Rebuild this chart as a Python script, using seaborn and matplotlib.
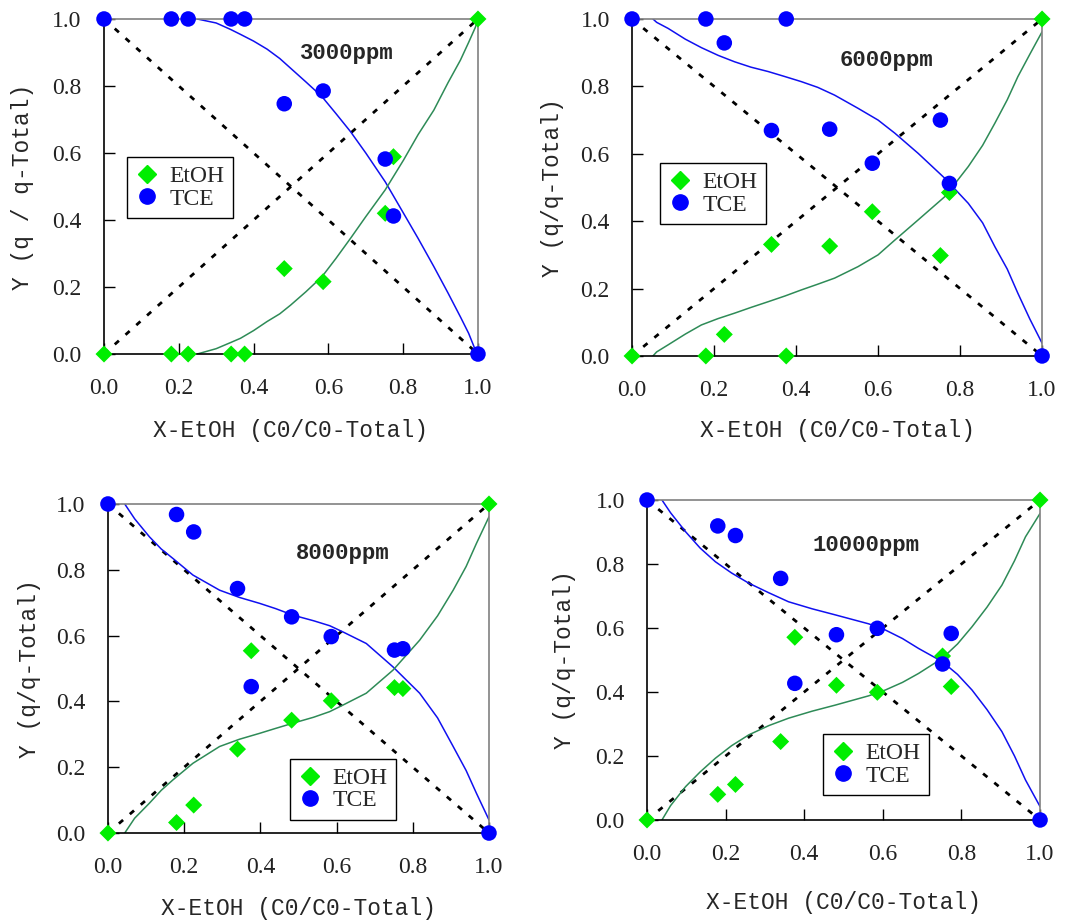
import matplotlib
matplotlib.use("Agg")
import matplotlib.pyplot as plt
import seaborn as sns
from matplotlib.lines import Line2D

# ---------------- data ----------------
x_conc = [0.0, 0.18, 0.225, 0.34, 0.376, 0.482, 0.586, 0.752, 0.774, 1.0]

tce_3000 = [1.0, 1.0, 1.0, 1.0, 1.0, 0.747, 0.785, 0.582, 0.412, 0.0]
etoh_3000 = [0.0, 0.0, 0.0, 0.0, 0.0, 0.255, 0.216, 0.42, 0.589, 1.0]
tce_6000 = [1.0, 1.0, 0.929, 0.669, 1.0, 0.673, 0.572, 0.700, 0.512, 0.0]
etoh_6000 = [0.0, 0.0, 0.064, 0.331, 0.0, 0.326, 0.428, 0.298, 0.485, 1.0]
tce_8000 = [1.0, 0.968, 0.915, 0.743, 0.445, 0.657, 0.597, 0.556, 0.560, 0.0]
etoh_8000 = [0.0, 0.032, 0.085, 0.255, 0.554, 0.343, 0.402, 0.442, 0.439, 1.0]
tce_10000 = [1.0, 0.919, 0.889, 0.755, 0.427, 0.579, 0.599, 0.4875, 0.583, 0.0]
etoh_10000 = [0.0, 0.080, 0.111, 0.245, 0.571, 0.421, 0.399, 0.5125, 0.417, 1.0]

# model curves
fit_x_3000 = [0.249, 0.30, 0.338, 0.365, 0.40, 0.436, 0.47, 0.499, 0.54, 0.583, 0.62, 0.659, 0.70, 0.752, 0.801, 0.84, 0.882, 0.92, 0.953, 0.975, 0.993, 1.0]
fit_tce_3000 = [1.0, 0.988, 0.969, 0.954, 0.934, 0.91, 0.882, 0.853, 0.812, 0.768, 0.718, 0.664, 0.60, 0.514, 0.42, 0.345, 0.261, 0.182, 0.111, 0.062, 0.012, 0.0]
fit_etoh_3000 = [0.0, 0.016, 0.034, 0.047, 0.07, 0.097, 0.12, 0.146, 0.186, 0.231, 0.285, 0.345, 0.41, 0.49, 0.579, 0.655, 0.728, 0.81, 0.877, 0.93, 0.975, 1.0]

fit_x_6000 = [0.051, 0.06, 0.088, 0.13, 0.169, 0.21, 0.25, 0.29, 0.332, 0.373, 0.413, 0.453, 0.494, 0.551, 0.60, 0.641, 0.698, 0.763, 0.82, 0.855, 0.885, 0.915, 0.941, 0.97, 1.0]
fit_tce_6000 = [1.0, 0.99, 0.972, 0.94, 0.915, 0.892, 0.873, 0.857, 0.844, 0.829, 0.814, 0.797, 0.774, 0.735, 0.70, 0.661, 0.601, 0.527, 0.453, 0.395, 0.324, 0.258, 0.186, 0.11, 0.038]
fit_etoh_6000 = [0.0, 0.012, 0.033, 0.065, 0.092, 0.111, 0.127, 0.144, 0.161, 0.178, 0.196, 0.213, 0.231, 0.265, 0.30, 0.344, 0.404, 0.473, 0.562, 0.625, 0.691, 0.76, 0.829, 0.895, 0.962]

fit_x_8000 = [0.044, 0.07, 0.109, 0.14, 0.171, 0.223, 0.293, 0.345, 0.398, 0.44, 0.486, 0.54, 0.582, 0.617, 0.678, 0.748, 0.818, 0.865, 0.906, 0.94, 0.967, 1.0]
fit_tce_8000 = [1.0, 0.955, 0.9, 0.863, 0.834, 0.784, 0.738, 0.716, 0.698, 0.682, 0.662, 0.645, 0.63, 0.611, 0.576, 0.505, 0.425, 0.35, 0.263, 0.19, 0.121, 0.04]
fit_etoh_8000 = [0.0, 0.045, 0.091, 0.13, 0.162, 0.212, 0.263, 0.285, 0.303, 0.318, 0.334, 0.352, 0.369, 0.389, 0.425, 0.495, 0.586, 0.66, 0.738, 0.81, 0.88, 0.961]

fit_x_10000 = [0.038, 0.06, 0.098, 0.135, 0.174, 0.215, 0.259, 0.31, 0.36, 0.42, 0.479, 0.564, 0.606, 0.65, 0.691, 0.751, 0.79, 0.827, 0.865, 0.903, 0.935, 0.963, 1.0]
fit_tce_10000 = [1.0, 0.96, 0.901, 0.85, 0.807, 0.772, 0.74, 0.71, 0.682, 0.66, 0.641, 0.613, 0.594, 0.567, 0.536, 0.495, 0.455, 0.406, 0.345, 0.276, 0.2, 0.125, 0.042]
fit_etoh_10000 = [0.0, 0.045, 0.104, 0.15, 0.193, 0.232, 0.266, 0.295, 0.318, 0.34, 0.359, 0.388, 0.406, 0.43, 0.458, 0.505, 0.55, 0.604, 0.665, 0.734, 0.81, 0.885, 0.958]

diag = [0.0, 1.0]
ticks = [0.0, 0.2, 0.4, 0.6, 0.8, 1.0]
tick_labels = ["0.0", "0.2", "0.4", "0.6", "0.8", "1.0"]
titles = ["3000ppm", "6000ppm", "8000ppm", "10000ppm"]
xlabel = "X-EtOH (C0/C0-Total)"
ylabels = ["Y (q / q-Total)", "Y (q/q-Total)", "Y (q/q-Total)", "Y (q/q-Total)"]
series_names = ["EtOH", "TCE"]

panels = [
    dict(tce=tce_3000, etoh=etoh_3000, fx=fit_x_3000, ft=fit_tce_3000, fe=fit_etoh_3000,
         rect=[0.0972, 0.6156, 0.3495, 0.3638], leg=(0.1187, 0.8295), title_xy=(0.65, 0.897),
         xl=-0.227, yl=-0.219),
    dict(tce=tce_6000, etoh=etoh_6000, fx=fit_x_6000, ft=fit_tce_6000, fe=fit_etoh_6000,
         rect=[0.5907, 0.6135, 0.3832, 0.3659], leg=(0.6168, 0.823), title_xy=(0.62, 0.878),
         xl=-0.22, yl=-0.195),
    dict(tce=tce_8000, etoh=etoh_8000, fx=fit_x_8000, ft=fit_tce_8000, fe=fit_etoh_8000,
         rect=[0.1009, 0.0955, 0.3561, 0.3573], leg=(0.271, 0.1759), title_xy=(0.617, 0.849),
         xl=-0.228, yl=-0.205),
    dict(tce=tce_10000, etoh=etoh_10000, fx=fit_x_10000, ft=fit_tce_10000, fe=fit_etoh_10000,
         rect=[0.6047, 0.1097, 0.3673, 0.3474], leg=(0.7692, 0.203), title_xy=(0.556, 0.859),
         xl=-0.259, yl=-0.209),
]

# ---------------- style ----------------
sns.set_theme(style="white")
plt.rcParams["font.family"] = ["Liberation Serif", "DejaVu Sans"]

C_ETOH = "#00EE00"
C_TCE = "#0000FF"
C_FIT_E = "#2E8B57"
C_FIT_T = "#1010F0"
LABEL_FONT = ["Liberation Mono", "DejaVu Sans Mono"]

fig = plt.figure(figsize=(10.7, 9.21), dpi=100)
fig.patch.set_facecolor("white")

for i, p in enumerate(panels):
    ax = fig.add_axes(p["rect"])
    ax.set_facecolor("white")
    sns.lineplot(x=diag, y=diag, ax=ax, color="black", lw=2.0)
    sns.lineplot(x=diag, y=diag[::-1], ax=ax, color="black", lw=2.0)
    ax.lines[0].set_dashes([2.0, 3.2])
    ax.lines[1].set_dashes([2.0, 3.2])
    sns.lineplot(x=p["fx"], y=p["ft"], ax=ax, color=C_FIT_T, lw=1.1, sort=False, estimator=None)
    sns.lineplot(x=p["fx"], y=p["fe"], ax=ax, color=C_FIT_E, lw=1.1, sort=False, estimator=None)
    sns.scatterplot(x=x_conc, y=p["etoh"], ax=ax, marker="D", color=C_ETOH, s=75,
                    edgecolor="none", linewidth=0, clip_on=False, zorder=5)
    sns.scatterplot(x=x_conc, y=p["tce"], ax=ax, marker="o", color=C_TCE, s=125,
                    edgecolor="none", linewidth=0, clip_on=False, zorder=6)

    ax.set_xlim(0, 1)
    ax.set_ylim(0, 1)
    ax.set_xticks(ticks)
    ax.set_yticks(ticks)
    ax.set_xticklabels(tick_labels, fontsize=17, color="#222222")
    ax.set_yticklabels(tick_labels, fontsize=17, color="#222222")
    ax.tick_params(axis="both", direction="in", length=8, width=1, color="black",
                   bottom=True, left=True, top=False, right=False)
    ax.tick_params(axis="x", pad=17)
    ax.tick_params(axis="y", pad=16)
    for side in ["left", "bottom"]:
        ax.spines[side].set_color("black")
        ax.spines[side].set_linewidth(1.2)
    for side in ["top", "right"]:
        ax.spines[side].set_color("#808080")
        ax.spines[side].set_linewidth(1.2)

    ax.set_xlabel(xlabel, fontsize=16.5, family=LABEL_FONT, va="center", ha="center")
    ax.set_ylabel(ylabels[i], fontsize=16.5, family=LABEL_FONT, va="center", ha="center")
    ax.xaxis.set_label_coords(0.5, p["xl"])
    ax.yaxis.set_label_coords(p["yl"], 0.5)

    ax.text(p["title_xy"][0], p["title_xy"][1], titles[i], transform=ax.transAxes,
            fontsize=16, fontweight="bold", family=LABEL_FONT, ha="center", va="center")

    handles = [
        Line2D([], [], marker="D", color=C_ETOH, linestyle="none", markersize=9),
        Line2D([], [], marker="o", color=C_TCE, linestyle="none", markersize=11),
    ]
    leg = ax.legend(handles, series_names, loc="upper left", bbox_to_anchor=p["leg"],
                    bbox_transform=fig.transFigure, fontsize=17, frameon=True,
                    fancybox=False, framealpha=1, edgecolor="black", handlelength=1.0,
                    handletextpad=0.45, borderpad=0.35, labelspacing=0.05, borderaxespad=0)
    leg.get_frame().set_linewidth(1.0)

fig.savefig("out.png", dpi=100, facecolor="white")
